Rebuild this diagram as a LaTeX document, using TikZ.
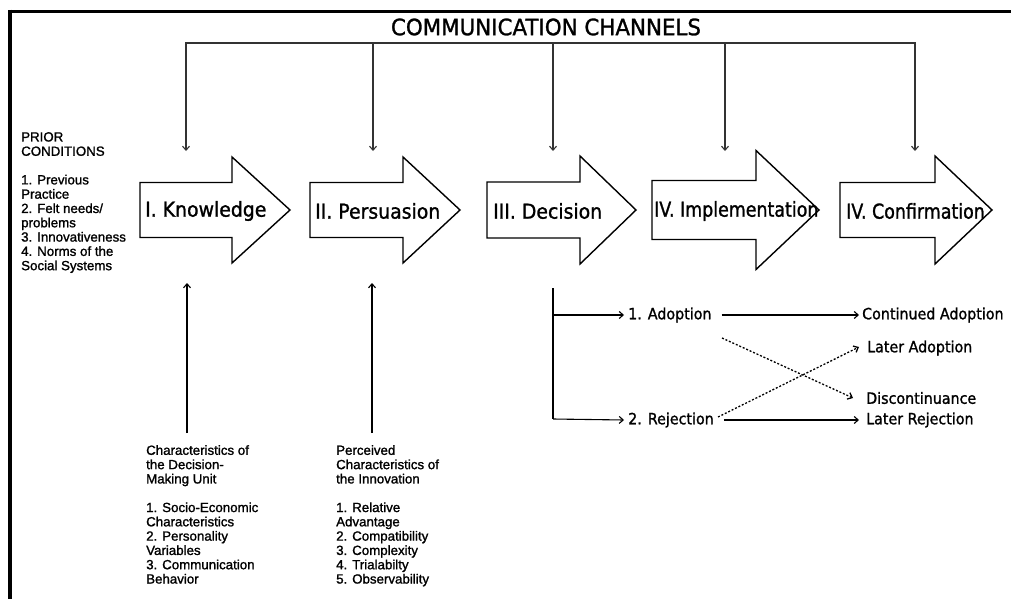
\documentclass[tikz,border=0pt]{standalone}
\usepackage{fontspec}
\setmainfont{Liberation Sans}
\newfontfamily\notesfont[FakeBold=1.3]{Liberation Sans}
\newfontfamily\stagefont[FakeStretch=0.92,FakeBold=1.2]{DejaVu Sans}
\newfontfamily\stagefontnarrow[FakeStretch=0.85,FakeBold=1.2]{DejaVu Sans}
\newfontfamily\titlefont[FakeStretch=0.95,FakeBold=1.2]{DejaVu Sans}
\usetikzlibrary{arrows.meta}

% one block arrow of the process: left edge, shaft end, tip, body half height, head half height
\newcommand\stagearrow[5]{%
  \draw[stagebox] (#1,210-#4) -- (#2,210-#4) -- (#2,210-#5) -- (#3,210)
    -- (#2,210+#5) -- (#2,210+#4) -- (#1,210+#4) -- cycle;}

\begin{document}
\begin{tikzpicture}[x=1pt,y=-1pt,
  framerule/.style={line width=3.5pt},
  feedline/.style={line width=2pt, draw=black!80},
  barb/.style={-{Straight Barb[length=4pt,width=7pt]}},
  tipline/.style={line width=1.1pt, barb},
  stagebox/.style={line width=1.4pt, fill=white, line join=miter},
  stagelabel/.style={font=\stagefont\fontsize{20.5}{24}\selectfont, anchor=west, inner sep=0},
  stagelabelnarrow/.style={font=\stagefontnarrow\fontsize{20.5}{24}\selectfont, anchor=west, inner sep=0},
  notes/.style={font=\notesfont\fontsize{13.3}{14.3}\selectfont, align=left, anchor=north west, inner sep=0},
  outcome/.style={font=\stagefont\fontsize{15.5}{18}\selectfont, anchor=west, inner sep=0},
  dottedlink/.style={line width=1.3pt, dash pattern=on 2pt off 1.8pt, barb}
]
\useasboundingbox (0,0) rectangle (1011,599);
\fill[white] (0,0) rectangle (1011,599);

% frame
\draw[framerule] (8.25,11.5) -- (1011,11.5);
\draw[framerule] (10,9.75) -- (10,599);

% communication channels bracket
\node[font=\titlefont\fontsize{22.5}{24}\selectfont, inner sep=0] (title) at (546,27) {COMMUNICATION CHANNELS};
\coordinate (c1) at (186,43);
\coordinate (c2) at (373,43);
\coordinate (c3) at (553,43);
\coordinate (c4) at (725,43);
\coordinate (c5) at (915,43);
\coordinate (s1) at (186,151);
\coordinate (s2) at (373,151);
\coordinate (s3) at (553,151);
\coordinate (s4) at (725,151);
\coordinate (s5) at (915,151);
\draw[feedline, line cap=rect] (c1) -- (c5);
\foreach \i in {1,...,5} \draw[tipline, draw=black!80] (c\i) -- (s\i);

% the five stages
\stagearrow{140}{232}{290}{27.5}{53}
\stagearrow{310}{403}{460}{27.5}{53}
\stagearrow{487}{580}{636}{28}{54}
\stagearrow{652}{756}{819}{29.5}{59.5}
\stagearrow{840}{935}{992}{27.5}{54}
\node[stagelabel] (knowledge) at (145,211) {I. Knowledge};
\node[stagelabel] (persuasion) at (315,211) {II. Persuasion};
\node[stagelabel] (decision) at (493,211) {III. Decision};
\node[stagelabelnarrow] (implementation) at (654,211) {IV. Implementation};
\node[stagelabelnarrow] (confirmation) at (846,211) {IV. Confirmation};

% prior conditions
\node[notes] (prior) at (21,132) {PRIOR\\CONDITIONS\\[14.3pt]1. Previous\\Practice\\2. Felt needs/\\problems\\3. Innovativeness\\4. Norms of the\\Social Systems};

% influences on knowledge and persuasion
\node[notes] (unit) at (146,445) {Characteristics of\\the Decision-\\Making Unit\\[14.3pt]1. Socio-Economic\\Characteristics\\2. Personality\\Variables\\3. Communication\\Behavior};
\node[notes] (innovation) at (336,445) {Perceived\\Characteristics of\\the Innovation\\[14.3pt]1. Relative\\Advantage\\2. Compatibility\\3. Complexity\\4. Trialabilty\\5. Observability};
\coordinate (k0) at (187,433);
\coordinate (k1) at (187,283);
\coordinate (p0) at (372,433);
\coordinate (p1) at (372,283);
\draw[tipline] (k0) -- (k1);
\draw[tipline] (p0) -- (p1);

% outcomes of the decision
\node[outcome] (adoption) at (628,315) {1. Adoption};
\node[outcome] (rejection) at (628,420) {2. Rejection};
\node[outcome] (continued) at (862,315) {Continued Adoption};
\node[outcome] (lateradoption) at (867,348) {Later Adoption};
\node[outcome] (discontinuance) at (866,398) {Discontinuance};
\node[outcome] (laterrejection) at (866,420) {Later Rejection};
\coordinate (d0) at (553,288);
\coordinate (d1) at (553,419);
\draw[line width=1.4pt] (d0) -- (d1);
\draw[tipline] (d0 |- adoption) -- ([xshift=-4pt]adoption.west);
\draw[tipline] (d1) -- ([xshift=-4pt]rejection.west);
\draw[tipline] ([xshift=10pt]adoption.east) -- ([xshift=-3pt]continued.west);
\draw[tipline] ([xshift=10pt]rejection.east) -- ([xshift=-7pt]laterrejection.west);
\coordinate (a0) at (722,338);
\coordinate (r0) at (718,417);
\draw[dottedlink] (a0) -- ([xshift=-13pt]discontinuance.west);
\draw[dottedlink] (r0) -- ([xshift=-8pt,yshift=1pt]lateradoption.west);
\end{tikzpicture}
\end{document}
